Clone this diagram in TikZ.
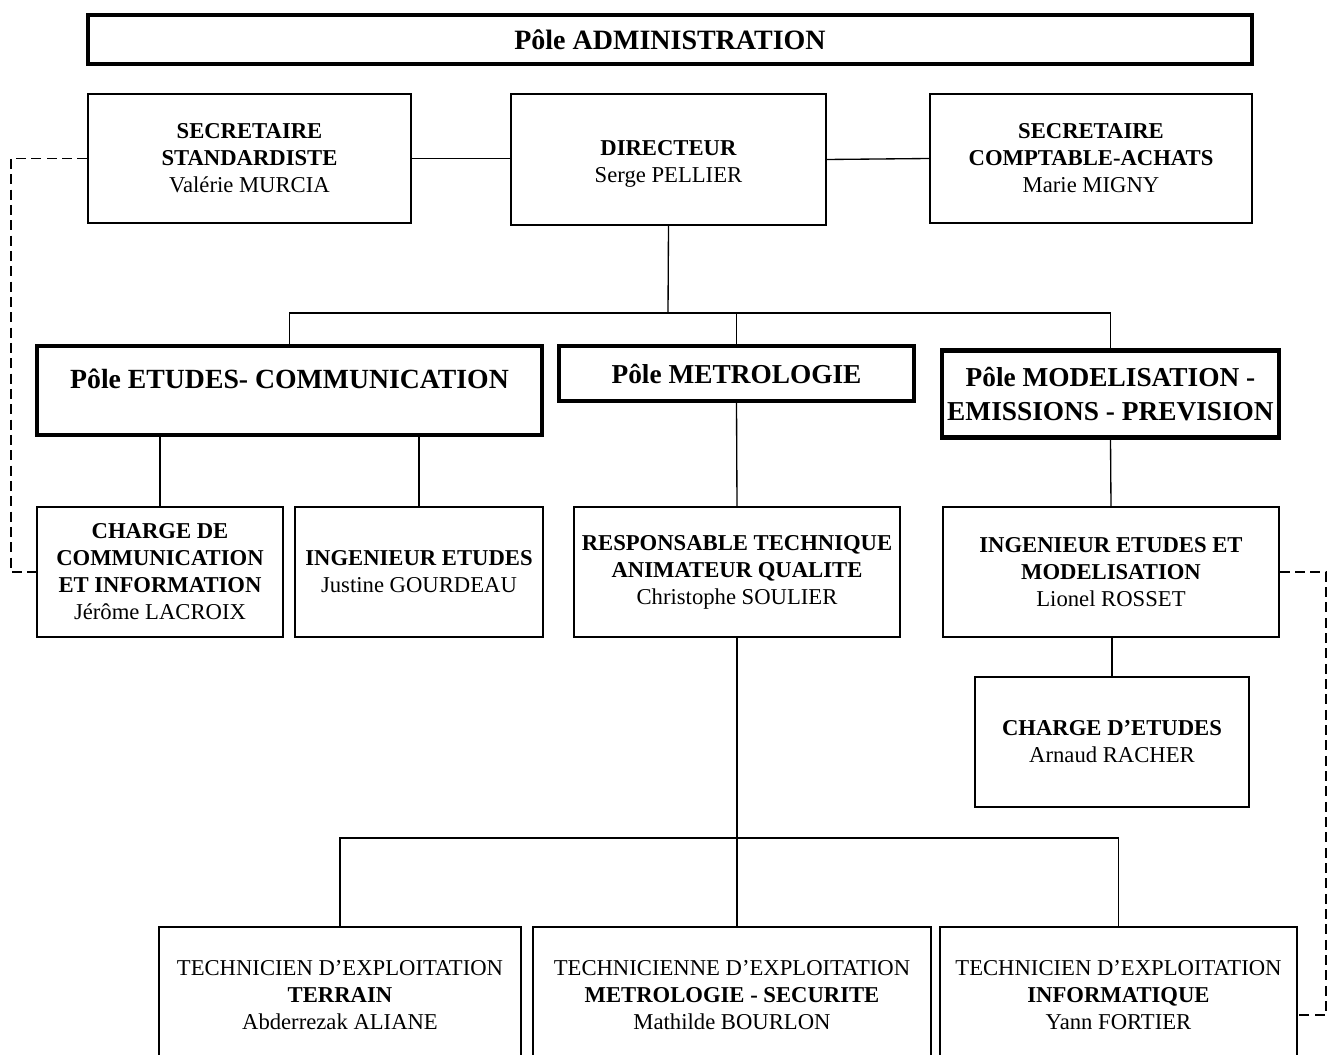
\documentclass[tikz,border=0pt]{standalone}
\usepackage{fontspec}
\setmainfont{Liberation Serif}
\begin{document}
\begin{tikzpicture}[x=0.75pt,y=-0.75pt,
  sz/.style 2 args={minimum width=#1*0.75pt, minimum height=#2*0.75pt},
  box/.style={draw, line width=1.2pt, inner sep=0pt, align=center,
    font=\fontsize{17}{20.3}\selectfont},
  polebox/.style={draw, line width=3.2pt, inner sep=0pt, align=center,
    font=\bfseries\fontsize{20.5}{25.5}\selectfont},
  poletext/.style={inner sep=0pt, align=center, font=\bfseries\fontsize{20.8}{25.5}\selectfont},
  link/.style={line width=1pt},
  dashlink/.style={line width=1pt, dash pattern=on 7.5pt off 4pt}]
\clip (0,0) rectangle (1328,1055);
\fill[white] (0,0) rectangle (1328,1055);

% top level
\node[polebox, font=\bfseries\fontsize{21}{25}\selectfont, sz={1164}{49}] (admin) at (670,39.5) {Pôle ADMINISTRATION};
\node[box, sz={323}{129}] (secstd) at (249.5,158.5) {\textbf{SECRETAIRE}\\\textbf{STANDARDISTE}\\Valérie MURCIA};
\node[box, sz={315}{131}, text height=35pt, text depth=0pt] (dir) at (668.5,159.5) {\textbf{DIRECTEUR}\\Serge PELLIER};
\node[box, sz={322}{129}] (seccpt) at (1091,158.5) {\textbf{SECRETAIRE}\\\textbf{COMPTABLE-ACHATS}\\Marie MIGNY};

% poles
\node[polebox, sz={505}{89}] (etudes) at (289.5,390.5) {};
\node[poletext] (etudesT) at (289.5,379) {Pôle ETUDES- COMMUNICATION};
\node[polebox, sz={355}{55}] (metro) at (736.5,373.5) {Pôle METROLOGIE};
\node[polebox, sz={337}{87}] (model) at (1110.5,394) {Pôle MODELISATION -\\EMISSIONS - PREVISION};

% third level
\node[box, sz={246}{130}] (comm) at (160,572) {\textbf{CHARGE DE}\\\textbf{COMMUNICATION}\\\textbf{ET INFORMATION}\\Jérôme LACROIX};
\node[box, sz={248}{130}] (ingetu) at (419,572) {\textbf{INGENIEUR ETUDES}\\Justine GOURDEAU};
\node[box, sz={326}{130}] (resp) at (737,572) {\textbf{RESPONSABLE TECHNIQUE}\\\textbf{ANIMATEUR QUALITE}\\Christophe SOULIER};
\node[box, sz={336}{130}] (ingmod) at (1111,572) {\textbf{INGENIEUR ETUDES ET}\\\textbf{MODELISATION}\\Lionel ROSSET};
\node[box, sz={274}{130}] (chetu) at (1112,742) {\textbf{CHARGE D’ETUDES}\\Arnaud RACHER};

% bottom level
\node[box, sz={362}{136}] (tterr) at (340,995) {TECHNICIEN D’EXPLOITATION\\\textbf{TERRAIN}\\Abderrezak ALIANE};
\node[box, sz={398}{136}] (tmet) at (732,995) {TECHNICIENNE D’EXPLOITATION\\\textbf{METROLOGIE - SECURITE}\\Mathilde BOURLON};
\node[box, sz={357}{136}] (tinfo) at (1118.5,995) {TECHNICIEN D’EXPLOITATION\\\textbf{INFORMATIQUE}\\Yann FORTIER};

% connectors
\draw[link] (secstd.east) -- (secstd.east -| dir.west);
\draw[link] (dir.east) -- (seccpt.west);
\coordinate (busA) at (668,313);
\draw[link] (dir.south) -- (busA);
\draw[link] (etudes.north) |- (busA) -| (model.north);
\draw[link] (metro.north) -- (metro.north |- busA);
\draw[link] (comm.north) -- (comm.north |- etudes.south);
\draw[link] (ingetu.north) -- (ingetu.north |- etudes.south);
\draw[link] (metro.south) -- (resp.north);
\draw[link] (model.south) -- (ingmod.north);
\draw[link] (chetu.north |- ingmod.south) -- (chetu.north);
\coordinate (busB) at (735,838);
\draw[link] (resp.south) -- (resp.south |- tmet.north);
\draw[link] (tterr.north) |- (busB) -| (tinfo.north);

% dashed links
\coordinate (dl) at (11,572);
\draw[dashlink] (secstd.west) -| (dl) -- (comm.west);
\coordinate (drb) at (1326,1015);
\draw[dashlink] (ingmod.east) -| (drb) -- (drb -| tinfo.east);
\end{tikzpicture}
\end{document}
